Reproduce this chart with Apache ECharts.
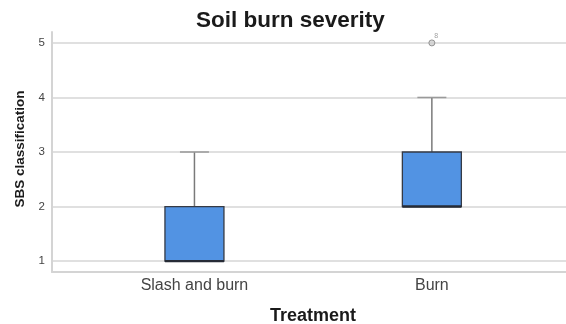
<!DOCTYPE html>
<html>
<head>
<meta charset="utf-8">
<script src="https://cdn.jsdelivr.net/npm/echarts@6/dist/echarts.min.js"></script>
<style>
html,body{margin:0;padding:0;background:#fff;}
#chart{width:566px;height:324px;}
</style>
</head>
<body>
<div id="chart"></div>
<script>
// Data
var categories = ['Slash and burn', 'Burn'];
var categoryPositions = [1, 2];
// [min, Q1, median, Q3, max]
var boxStats = [
  [1, 1, 1, 2, 3],
  [2, 2, 2, 3, 4]
];
var outlierCategory = [2];
var outlierValues = [5];
var outlierLabels = ['8'];
var yTicks = [1, 2, 3, 4, 5];

var boxData = boxStats.map(function (s, i) { return [categoryPositions[i]].concat(s); });
var outlierData = outlierValues.map(function (v, i) { return [outlierCategory[i], v]; });

var chart = echarts.init(document.getElementById('chart'));

function renderBox(params, api) {
  var x = api.value(0);
  var mn = api.value(1), q1 = api.value(2), med = api.value(3), q3 = api.value(4), mx = api.value(5);
  var pMin = api.coord([x, mn]), pQ1 = api.coord([x, q1]), pMed = api.coord([x, med]);
  var pQ3 = api.coord([x, q3]), pMax = api.coord([x, mx]);
  var half = 29.5, cap = 14.5;
  var cx = pMed[0];
  var children = [];
  var whiskerStyle = { stroke: '#7a7a7a', lineWidth: 1.5 };
  if (pMax[1] < pQ3[1]) {
    children.push({ type: 'line', shape: { x1: cx, y1: pQ3[1], x2: cx, y2: pMax[1] }, style: whiskerStyle });
    children.push({ type: 'line', shape: { x1: cx - cap, y1: pMax[1], x2: cx + cap, y2: pMax[1] }, style: { stroke: '#9a9a9a', lineWidth: 1.5 } });
  }
  if (pMin[1] > pQ1[1]) {
    children.push({ type: 'line', shape: { x1: cx, y1: pQ1[1], x2: cx, y2: pMin[1] }, style: whiskerStyle });
    children.push({ type: 'line', shape: { x1: cx - cap, y1: pMin[1], x2: cx + cap, y2: pMin[1] }, style: { stroke: '#9a9a9a', lineWidth: 1.5 } });
  }
  children.push({
    type: 'rect',
    shape: { x: cx - half, y: pQ3[1], width: half * 2, height: pQ1[1] - pQ3[1] },
    style: { fill: '#5293e3', stroke: '#353a45', lineWidth: 1.3 }
  });
  children.push({ type: 'line', shape: { x1: cx - half, y1: pMed[1], x2: cx + half, y2: pMed[1] }, style: { stroke: '#262b36', lineWidth: 2.4 } });
  return { type: 'group', children: children };
}

chart.setOption({
  animation: false,
  backgroundColor: '#ffffff',
  title: {
    text: 'Soil burn severity',
    left: 191,
    top: 4,
    textStyle: { fontFamily: 'Liberation Sans, Arial, sans-serif', fontSize: 22.5, fontWeight: 'bold', color: '#1a1a1a' }
  },
  grid: { left: 52, right: 0, top: 32, bottom: 52, containLabel: false, outerBoundsMode: 'none' },
  xAxis: {
    type: 'value',
    min: 0.4,
    max: 2.565,
    name: 'Treatment',
    nameLocation: 'middle',
    nameGap: 35,
    nameTextStyle: { fontFamily: 'Liberation Sans, Arial, sans-serif', fontSize: 18, fontWeight: 'bold', color: '#1a1a1a', padding: [0, 0, 0, 8] },
    axisLine: { show: true, lineStyle: { color: '#d4d4d4', width: 2 } },
    axisTick: { show: false, customValues: categoryPositions },
    splitLine: { show: false },
    axisLabel: {
      customValues: categoryPositions,
      formatter: function (v) { return categories[categoryPositions.indexOf(v)] || ''; },
      fontFamily: 'Liberation Sans, Arial, sans-serif',
      fontSize: 16,
      color: '#444',
      margin: 6
    }
  },
  yAxis: {
    type: 'value',
    min: 0.8,
    max: 5.2,
    name: 'SBS classification',
    nameLocation: 'middle',
    nameRotate: 90,
    nameGap: 25,
    nameTextStyle: { fontFamily: 'Liberation Sans, Arial, sans-serif', fontSize: 13.5, fontWeight: 'bold', color: '#1a1a1a', padding: [0, 0, 0, 6] },
    axisLine: { show: true, lineStyle: { color: '#d4d4d4', width: 2 } },
    axisTick: { show: false, customValues: yTicks },
    axisLabel: { customValues: yTicks, fontFamily: 'Liberation Sans, Arial, sans-serif', fontSize: 11.5, color: '#444', margin: 7 },
    splitLine: { show: true, lineStyle: { color: '#e0e0e0', width: 2 } }
  },
  series: [
    {
      type: 'custom',
      renderItem: renderBox,
      encode: { x: 0, y: [1, 2, 3, 4, 5] },
      data: boxData,
      z: 3
    },
    {
      type: 'scatter',
      data: outlierData,
      symbol: 'circle',
      symbolSize: 6,
      itemStyle: { color: '#d0d0d0', borderColor: '#808080', borderWidth: 1 },
      label: {
        show: true,
        position: [6, -7],
        formatter: function (p) { return outlierLabels[p.dataIndex]; },
        fontSize: 7,
        color: '#888'
      },
      z: 4
    }
  ]
});
</script>
</body>
</html>
